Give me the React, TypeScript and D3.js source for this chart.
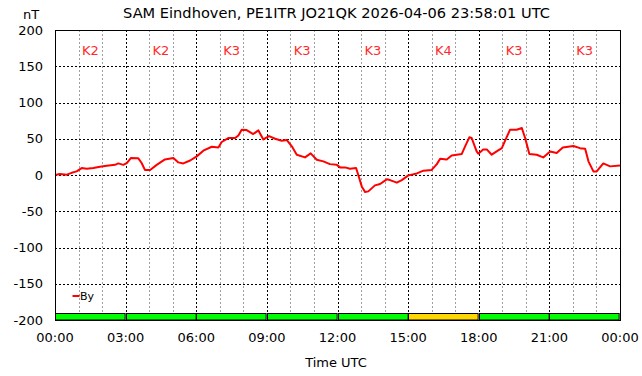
import React from "react";
import * as d3 from "d3";

const title = "SAM Eindhoven, PE1ITR JO21QK 2026-04-06 23:58:01 UTC";
const yUnit = "nT";
const xAxisLabel = "Time UTC";
const seriesName = "By";

// hours since 00:00 UTC
const hours = [
  0, 0.21, 0.5, 0.71, 0.92, 1.13, 1.35, 1.63, 1.91, 2.2, 2.55, 2.69, 2.9, 3.05,
  3.22, 3.54, 3.68, 3.82, 4.04, 4.32, 4.67, 5.03, 5.24, 5.45, 5.74, 6.02, 6.3,
  6.66, 6.94, 7.08, 7.36, 7.65, 7.79, 7.93, 8.14, 8.42, 8.64, 8.85, 9.09, 9.35,
  9.63, 9.84, 10.06, 10.27, 10.62, 10.86, 11.12, 11.4, 11.68, 11.97, 12.11,
  12.32, 12.53, 12.79, 12.88, 13.03, 13.17, 13.31, 13.59, 13.81, 14.09, 14.23,
  14.52, 14.73, 15.01, 15.37, 15.65, 16.0, 16.22, 16.36, 16.64, 16.85, 17.28,
  17.42, 17.6, 17.7, 17.91, 17.98, 18.19, 18.34, 18.55, 18.76, 18.98, 19.12,
  19.33, 19.61, 19.83, 19.97, 20.15, 20.46, 20.74, 21.03, 21.31, 21.57, 22.02,
  22.3, 22.52, 22.66, 22.87, 23.01, 23.29, 23.58, 24.0,
];
const byValues = [
  0, 1.5, 0.5, 3, 5, 9.5, 8.7, 9.6, 11.4, 12.8, 14, 16, 14, 16.5,
  23.4, 23, 16.5, 7, 7, 14, 21.5, 23.4, 17.4, 16, 20, 25.7, 33.5,
  39, 38, 45.5, 51, 51, 54.6, 62.5, 62, 56.5, 61.5, 49, 53.7, 50,
  47.3, 48.3, 39.5, 28, 24.3, 29.8, 21, 18.8, 15, 14, 10.5,
  10.5, 8.7, 9.6, 0.4, -15.7, -23.5, -22.6, -14.3, -12.4, -6, -7,
  -10.6, -7, -0.5, 2.2, 6, 7, 15, 22.5, 21.5, 27, 29,
  39.5, 52, 51, 32.5, 29.4, 35.3, 35.3, 28, 32.5, 37, 47.3,
  62.5, 62.5, 64.8, 51, 29, 28, 24.3, 32.5, 30.3, 38, 40,
  37, 36.3, 18.8, 5, 5, 16, 11.9, 13.2,
];

const kLabels = ["K2", "K2", "K3", "K3", "K3", "K4", "K3", "K3"];
const kValues = [2, 2, 3, 3, 3, 4, 3, 3];

const yTicks = [200, 150, 100, 50, 0, -50, -100, -150, -200];
const xTickLabels = ["00:00", "03:00", "06:00", "09:00", "12:00", "15:00", "18:00", "21:00", "00:00"];

const W = 642;
const H = 376;
const left = 55;
const right = 620;
const top = 30;
const bottom = 320;
const font = "DejaVu Sans, sans-serif";

export default function App() {
  const x = d3.scaleLinear().domain([0, 24]).range([left, right]);
  const y = d3.scaleLinear().domain([-200, 200]).range([bottom, top]);
  const line = d3
    .line<number>()
    .x((_, i) => x(hours[i]))
    .y((v) => y(v));
  const hourGrid = d3.range(1, 24).filter((h) => h % 3 !== 0);
  const threeGrid = d3.range(3, 24, 3);
  const kColor = (k: number) => (k >= 5 ? "#ff0000" : k >= 4 ? "#ffd700" : "#00ff00");
  const segW = x(3) - x(0);

  return (
    <svg
      width={W}
      height={H}
      style={{ position: "fixed", left: 0, top: 0, background: "#fff" }}
      fontFamily={font}
    >
      <rect x={0} y={0} width={W} height={H} fill="#fff" />
      <text x={336.5} y={17.5} textAnchor="middle" fontSize={14.6} fill="#000">
        {title}
      </text>
      <text x={31} y={19} textAnchor="middle" fontSize={13} fill="#000">
        {yUnit}
      </text>

      {/* gray hour grid */}
      {hourGrid.map((h) => (
        <line
          key={"g" + h}
          x1={Math.round(x(h)) + 0.5}
          x2={Math.round(x(h)) + 0.5}
          y1={top}
          y2={bottom}
          stroke="#a0a0a0"
          strokeWidth={1}
          strokeDasharray="2,2"
        />
      ))}
      {threeGrid.map((h) => (
        <line
          key={"t" + h}
          x1={Math.round(x(h)) + 0.5}
          x2={Math.round(x(h)) + 0.5}
          y1={top}
          y2={bottom}
          stroke="#000"
          strokeWidth={1}
          strokeDasharray="2,2"
        />
      ))}
      {yTicks
        .filter((v) => v !== 200 && v !== -200)
        .map((v) => (
          <line
            key={"h" + v}
            x1={left}
            x2={right}
            y1={Math.round(y(v)) + 0.5}
            y2={Math.round(y(v)) + 0.5}
            stroke="#000"
            strokeWidth={1}
            strokeDasharray="2,2"
          />
        ))}

      {/* K labels */}
      {kLabels.map((k, i) => (
        <text
          key={"k" + i}
          x={x(i * 3 + 1.5)}
          y={54.5}
          textAnchor="middle"
          fontSize={13}
          fill="#ff2a2a"
        >
          {k}
        </text>
      ))}

      {/* K bar */}
      {kValues.map((k, i) => (
        <rect
          key={"kb" + i}
          x={Math.round(x(i * 3)) + 0.5}
          y={313.5}
          width={segW - 1}
          height={6.5}
          fill={kColor(k)}
          stroke="#000"
          strokeWidth={1}
        />
      ))}

      {/* series */}
      <path
        d={line(byValues) || ""}
        fill="none"
        stroke="#ff0000"
        strokeWidth={2}
        strokeLinejoin="round"
      />

      {/* legend */}
      <line x1={72.5} x2={79.5} y1={296} y2={296} stroke="#ff0000" strokeWidth={2} />
      <text x={80} y={300} fontSize={11} fill="#000">
        {seriesName}
      </text>

      {/* frame */}
      <rect
        x={left + 0.5}
        y={top + 0.5}
        width={right - left}
        height={bottom - top}
        fill="none"
        stroke="#000"
        strokeWidth={1}
      />

      {/* y tick labels */}
      {yTicks.map((v) => (
        <text key={"yl" + v} x={43} y={y(v) + 4.5} textAnchor="end" fontSize={13} fill="#000">
          {v}
        </text>
      ))}
      {/* x tick labels */}
      {xTickLabels.map((t, i) => (
        <text key={"xl" + i} x={x(i * 3)} y={342} textAnchor="middle" fontSize={13} fill="#000">
          {t}
        </text>
      ))}
      <text x={336} y={366.5} textAnchor="middle" fontSize={13} fill="#000">
        {xAxisLabel}
      </text>
    </svg>
  );
}
